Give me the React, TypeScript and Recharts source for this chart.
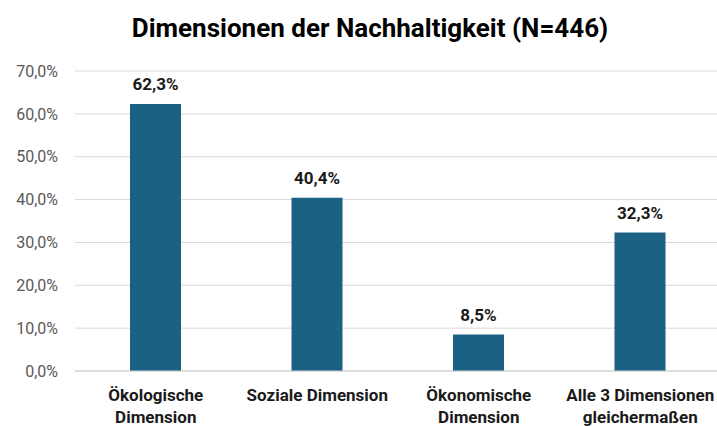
import React from "react";
import { BarChart, Bar, XAxis, YAxis, CartesianGrid, LabelList } from "recharts";

const categories = [
  "Ökologische\nDimension",
  "Soziale Dimension",
  "Ökonomische\nDimension",
  "Alle 3 Dimensionen\ngleichermaßen",
];
const shares = [62.3, 40.4, 8.5, 32.3];
const yTicks = [0, 10, 20, 30, 40, 50, 60, 70];
const title = "Dimensionen der Nachhaltigkeit (N=446)";

const data = categories.map((c, i) => ({ name: c, value: shares[i] }));

const FONT = '"Liberation Sans Narrow", "Arial Narrow", "Roboto", "Liberation Sans", sans-serif';
const fmt = (v: number) => v.toFixed(1).replace(".", ",") + "%";

const XTick = (props: any) => {
  const { x, y, payload } = props;
  const lines = String(payload.value).split("\n");
  return (
    <g transform={`translate(${x},${y})`}>
      {lines.map((l: string, i: number) => (
        <text
          key={i}
          x={0}
          y={22 + i * 21.5}
          textAnchor="middle"
          fontFamily={FONT}
          fontSize={17}
          fontWeight="bold"
          fill="#1a1a1a"
        >
          {l}
        </text>
      ))}
    </g>
  );
};

export default function App() {
  return (
    <div
      style={{
        position: "absolute",
        left: 0,
        top: 0,
        width: 717,
        height: 426,
        background: "#fff",
        overflow: "hidden",
      }}
    >
      <div
        style={{
          position: "absolute",
          left: 0,
          top: 12,
          width: 740,
          textAlign: "center",
          fontFamily: FONT,
          fontWeight: "bold",
          fontSize: 26,
          color: "#000",
          lineHeight: "32px",
        }}
      >
        {title}
      </div>
      <BarChart
        width={721}
        height={426}
        data={data}
        margin={{ top: 71, right: 0, bottom: 0, left: 0 }}
      >
        <CartesianGrid vertical={false} stroke="#d9d9d9" strokeWidth={1} />
        <XAxis
          dataKey="name"
          height={55}
          tickLine={false}
          axisLine={{ stroke: "#d0d0d0" }}
          tick={<XTick />}
          interval={0}
        />
        <YAxis
          width={75}
          domain={[0, 70]}
          ticks={yTicks}
          tickFormatter={fmt}
          axisLine={false}
          tickLine={false}
          tickMargin={11}
          tick={{ fill: "#595959", fontSize: 16, fontFamily: FONT }}
        />
        <Bar dataKey="value" fill="#1a6183" barSize={51} isAnimationActive={false}>
          <LabelList
            dataKey="value"
            position="top"
            offset={14}
            formatter={(v: any) => fmt(Number(v))}
            style={{ fill: "#1a1a1a", fontSize: 17, fontWeight: "bold", fontFamily: FONT }}
          />
        </Bar>
      </BarChart>
    </div>
  );
}
